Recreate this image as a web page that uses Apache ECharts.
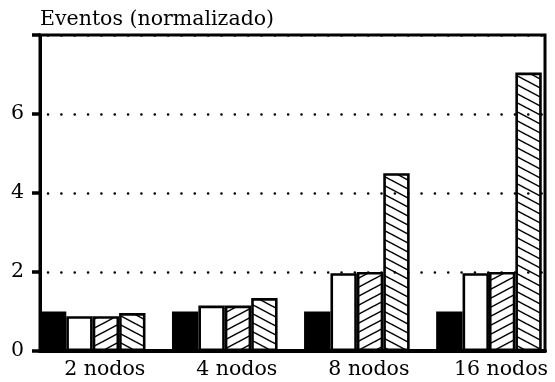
<!DOCTYPE html>
<html>
<head>
<meta charset="utf-8">
<script src="https://cdn.jsdelivr.net/npm/echarts@6/dist/echarts.min.js"></script>
<style>
  html, body { margin: 0; padding: 0; background: #fff; }
  #chart { width: 555px; height: 382px; }
</style>
</head>
<body>
<div id="chart"></div>
<script>
// Node counts on the x axis
const categories = ['2 nodos', '4 nodos', '8 nodos', '16 nodos'];
// Normalized event counts, one array per variant
const baseline = [1.0, 1.0, 1.0, 1.0];
const plain = [0.88, 1.15, 1.97, 1.97];
const hatchUp = [0.88, 1.15, 2.0, 2.0];
const hatchDown = [0.96, 1.34, 4.5, 7.05];
const yTicks = [0, 2, 4, 6];
const yTitle = 'Eventos (normalizado)';

const FONT = 'DejaVu Serif';
const FONT_SIZE = 20.5;

// Diagonal hatch tile; dir = -1 gives "/" strokes, +1 gives "\" strokes
function tile(dir) {
  const W = 17, H = 9;
  const c = document.createElement('canvas');
  c.width = W; c.height = H;
  const ctx = c.getContext('2d');
  ctx.fillStyle = '#fff';
  ctx.fillRect(0, 0, W, H);
  ctx.strokeStyle = '#000';
  ctx.lineWidth = 1.5;
  [-H, 0, H].forEach(function (o) {
    ctx.beginPath();
    if (dir < 0) {
      ctx.moveTo(0, H + o);
      ctx.lineTo(W, o);
    } else {
      ctx.moveTo(0, o);
      ctx.lineTo(W, H + o);
    }
    ctx.stroke();
  });
  return { image: c, repeat: 'repeat' };
}

const chart = echarts.init(document.getElementById('chart'), null, { renderer: 'canvas' });

const barWidth = 26.4;
function barSeries(name, data, fill) {
  return {
    name: name,
    type: 'bar',
    xAxisIndex: 0,
    yAxisIndex: 0,
    data: data,
    barWidth: barWidth,
    barGap: '0%',
    z: 3,
    itemStyle: { color: fill, borderColor: '#000', borderWidth: 2.6 },
    emphasis: { disabled: true },
    animation: false
  };
}

chart.setOption({
  animation: false,
  backgroundColor: '#fff',
  textStyle: { fontFamily: FONT, color: '#000' },
  grid: [
    // bars
    { left: 26.65, top: 35, width: 532.8, height: 316, containLabel: false },
    // frame and value axis
    { left: 40, top: 35, width: 505, height: 316, show: true, borderColor: '#000', borderWidth: 3, backgroundColor: 'transparent', z: 1 }
  ],
  xAxis: [
    {
      type: 'category', gridIndex: 0, data: categories,
      axisLine: { show: false }, axisTick: { show: false },
      axisLabel: { fontFamily: FONT, fontSize: FONT_SIZE, color: '#000', margin: 8, padding: [0, 0, 0, 24] }
    },
    {
      type: 'value', gridIndex: 1, min: 0, max: 1,
      axisLine: { show: true, onZero: false, lineStyle: { color: '#000', width: 4 } },
      axisTick: { show: false }, axisLabel: { show: false }, splitLine: { show: false }, z: 6
    }
  ],
  yAxis: [
    {
      type: 'value', gridIndex: 0, min: 0, max: 8,
      show: false, splitLine: { show: false }
    },
    {
      type: 'value', gridIndex: 1, min: 0, max: 8, interval: 2,
      name: yTitle, nameLocation: 'end', nameGap: 5,
      nameTextStyle: { fontFamily: FONT, fontSize: FONT_SIZE, color: '#000', align: 'left', verticalAlign: 'bottom' },
      axisLine: { show: true, lineStyle: { color: '#000', width: 3 } },
      axisTick: { show: true, inside: false, length: 8, lineStyle: { color: '#000', width: 3.5 } },
      axisLabel: {
        fontFamily: FONT, fontSize: FONT_SIZE, color: '#000', margin: 16,
        formatter: function (v) { return yTicks.indexOf(v) >= 0 ? String(v) : ''; }
      },
      splitLine: {
        show: true,
        lineStyle: { color: '#000', width: 2.6, type: [0.01, 13.33], cap: 'round', dashOffset: 5.3 }
      },
      z: 6
    }
  ],
  series: [
    barSeries('base', baseline, '#000'),
    barSeries('simple', plain, '#fff'),
    barSeries('diag-up', hatchUp, tile(-1)),
    barSeries('diag-down', hatchDown, tile(1))
  ]
});
</script>
</body>
</html>
